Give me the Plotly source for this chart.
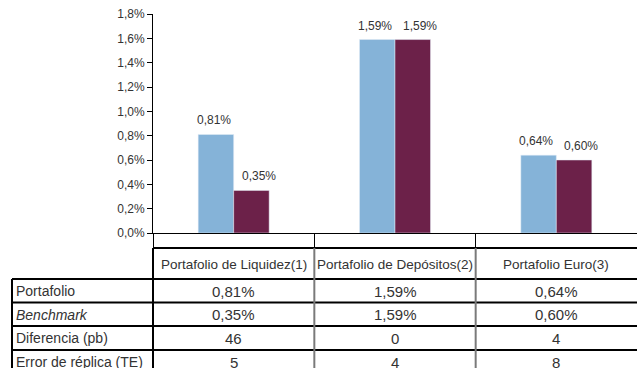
import plotly.graph_objects as go

# data
categories = ["Portafolio de Liquidez(1)", "Portafolio de Depósitos(2)", "Portafolio Euro(3)"]
portafolio = [0.81, 1.59, 0.64]
benchmark = [0.35, 1.59, 0.60]
diferencia = [46, 0, 4]
error_replica = [5, 4, 8]
row_labels = ["Portafolio", "<i>Benchmark</i>", "Diferencia (pb)", "Error de réplica (TE)"]
y_ticks = [0, 0.2, 0.4, 0.6, 0.8, 1.0, 1.2, 1.4, 1.6, 1.8]

BLUE = "#85B3D8"
MAROON = "#6C2149"
TXT = "#333333"
FONT = "Arial, Liberation Sans, sans-serif"

W, H = 637, 368
L, R, T, B = 153, 0, 14, 135
plot_h = H - T - B
plot_w = W - L - R


def pct(v):
    return f"{v:.2f}%".replace(".", ",")


def py(p):
    # pixel row -> paper y
    return (H - B - p) / plot_h


def px(p):
    # pixel column -> paper x
    return (p - L) / plot_w


fig = go.Figure()
fig.add_trace(go.Bar(x=categories, y=portafolio, marker_color=BLUE, name="Portafolio"))
fig.add_trace(go.Bar(x=categories, y=benchmark, marker_color=MAROON, name="Benchmark"))

fig.update_layout(
    width=W, height=H, margin=dict(l=L, r=R, t=T, b=B),
    plot_bgcolor="white", paper_bgcolor="white",
    font=dict(family=FONT, size=12, color=TXT),
    barmode="group", bargap=0.56, bargroupgap=0,
    showlegend=False,
)
fig.update_yaxes(range=[0, 1.8], tickvals=y_ticks,
                 ticktext=[f"{v:.1f}%".replace(".", ",") for v in y_ticks],
                 ticks="outside", ticklen=5, tickcolor="black", showgrid=False,
                 showline=True, linecolor="black", linewidth=1, zeroline=False,
                 tickfont=dict(size=12, color=TXT))
fig.update_xaxes(showticklabels=False, showline=True, linecolor="black", linewidth=1,
                 ticks="outside", tickson="boundaries", ticklen=15, tickcolor="black",
                 range=[-0.5, 2.5])

shapes = []
line_k = dict(color="black", width=2)
line_g = dict(color="#7a7a7a", width=2)
# table grid
shapes.append(dict(type="line", xref="paper", yref="paper", x0=0, x1=1, y0=py(248), y1=py(248), line=line_k))
for p in [279, 302.5, 326, 350]:
    shapes.append(dict(type="line", xref="paper", yref="paper", x0=px(12), x1=1, y0=py(p), y1=py(p), line=line_k))
shapes.append(dict(type="line", xref="paper", yref="paper", x0=px(12), x1=px(12), y0=py(279), y1=py(380), line=line_k))
shapes.append(dict(type="line", xref="paper", yref="paper", x0=0, x1=0, y0=py(248), y1=py(380), line=line_k))
for b in [0.5, 1.5]:
    shapes.append(dict(type="line", xref="x", yref="paper", x0=b, x1=b, y0=py(248), y1=py(380), line=line_g))
fig.update_layout(shapes=shapes)

ann = []
# bar value labels
for c, vp, vb in zip(categories, portafolio, benchmark):
    ann.append(dict(x=c, xref="x", y=vp, yref="y", text=pct(vp), showarrow=False,
                    xshift=-20, yshift=14, font=dict(size=12, color=TXT)))
    ann.append(dict(x=c, xref="x", y=vb, yref="y", text=pct(vb), showarrow=False,
                    xshift=25, yshift=14, font=dict(size=12, color=TXT)))
# table header
for c in categories:
    ann.append(dict(x=c, xref="x", y=py(264), yref="paper", text=c, showarrow=False,
                    font=dict(size=13.5, color=TXT), xanchor="center", yanchor="middle"))
rows = [
    [pct(v) for v in portafolio],
    [pct(v) for v in benchmark],
    [str(v) for v in diferencia],
    [str(v) for v in error_replica],
]
row_y = [291, 314.5, 338, 362]
for lbl, vals, yy in zip(row_labels, rows, row_y):
    ann.append(dict(x=px(14), xref="paper", y=py(yy), yref="paper", text=lbl, showarrow=False,
                    font=dict(size=14, color=TXT), xanchor="left", yanchor="middle"))
    for c, v in zip(categories, vals):
        ann.append(dict(x=c, xref="x", y=py(yy), yref="paper", text=v, showarrow=False,
                        font=dict(size=15, color=TXT), xanchor="center", yanchor="middle"))
fig.update_layout(annotations=ann)

fig.write_html("out.html", config={"displayModeBar": False},
               post_script="document.body.style.margin='0';")
